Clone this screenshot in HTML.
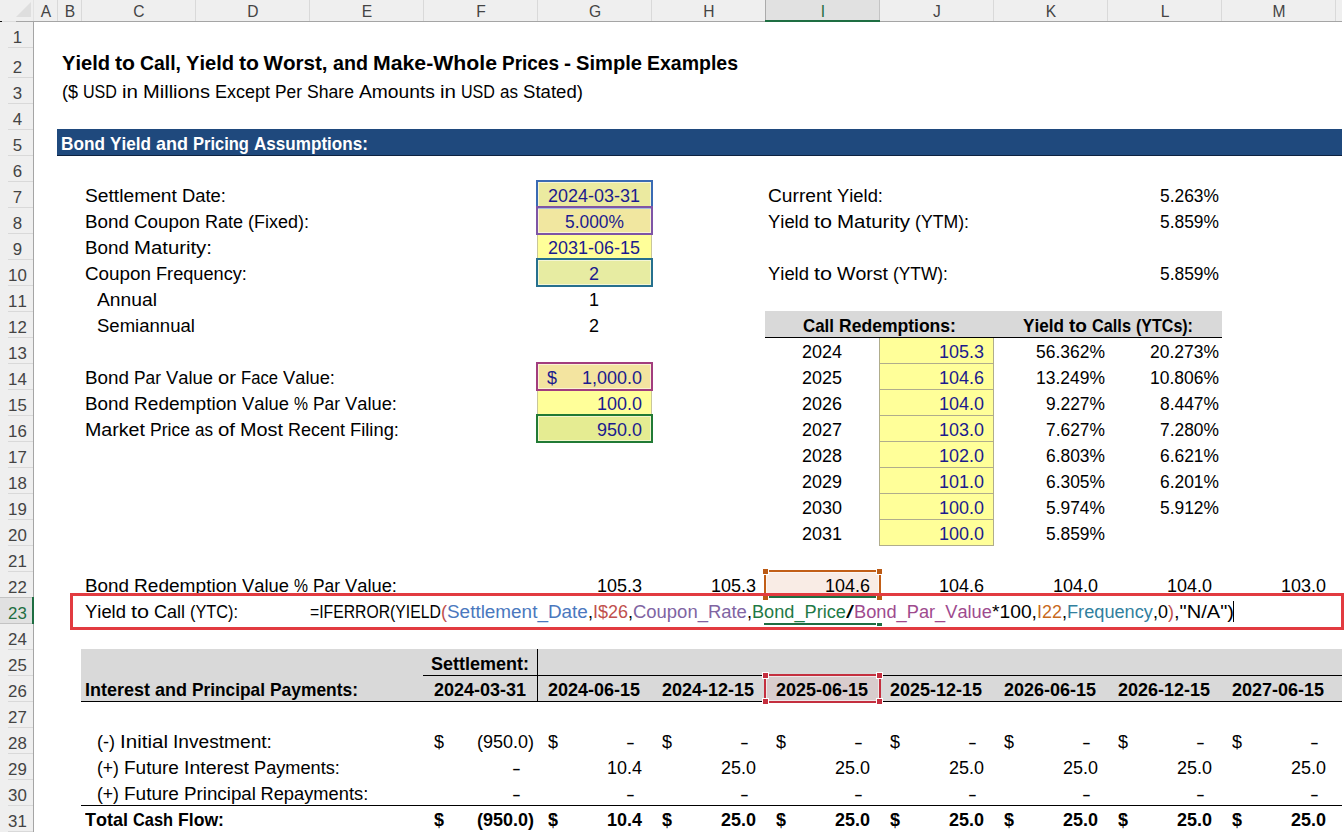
<!DOCTYPE html>
<html><head><meta charset="utf-8"><title>Yield to Call, Yield to Worst, and Make-Whole Prices</title>
<style>
html,body{margin:0;padding:0;background:#fff;}
body{width:1344px;height:832px;position:relative;overflow:hidden;font-family:"Liberation Sans",sans-serif;color:#000;}
.t{position:absolute;white-space:pre;font-kerning:none;transform-origin:0 0;}
.b{position:absolute;}
</style></head><body>

<div class="b" style="left:0;top:0;width:1342px;height:21px;background:#efefef;"></div>
<div class="b" style="left:0;top:21px;width:33px;height:811px;background:#efefef;"></div>
<svg class="b" style="left:0;top:0" width="33" height="21"><polygon points="31,2 31,17 16,17" fill="#dedede"/></svg>
<div class="b" style="left:57px;top:0;width:1px;height:21px;background:#d9d9d9;"></div>
<div class="b" style="left:81px;top:0;width:1px;height:21px;background:#d9d9d9;"></div>
<div class="b" style="left:195px;top:0;width:1px;height:21px;background:#d9d9d9;"></div>
<div class="b" style="left:309px;top:0;width:1px;height:21px;background:#d9d9d9;"></div>
<div class="b" style="left:423px;top:0;width:1px;height:21px;background:#d9d9d9;"></div>
<div class="b" style="left:537px;top:0;width:1px;height:21px;background:#d9d9d9;"></div>
<div class="b" style="left:651px;top:0;width:1px;height:21px;background:#d9d9d9;"></div>
<div class="b" style="left:765px;top:0;width:1px;height:21px;background:#d9d9d9;"></div>
<div class="b" style="left:879px;top:0;width:1px;height:21px;background:#d9d9d9;"></div>
<div class="b" style="left:993px;top:0;width:1px;height:21px;background:#d9d9d9;"></div>
<div class="b" style="left:1107px;top:0;width:1px;height:21px;background:#d9d9d9;"></div>
<div class="b" style="left:1221px;top:0;width:1px;height:21px;background:#d9d9d9;"></div>
<div class="b" style="left:1335px;top:0;width:1px;height:21px;background:#d9d9d9;"></div>
<div class="b" style="left:766px;top:0;width:113px;height:21px;background:#e1e1e1;"></div>
<div class="b" style="left:765px;top:0;width:1px;height:21px;background:#ababab;"></div>
<div class="b" style="left:879px;top:0;width:1px;height:21px;background:#c4c4c4;"></div>
<div class="b" style="left:0;top:21px;width:16px;height:1px;background:#dcdcdc;"></div>
<div class="b" style="left:16px;top:21px;width:1326px;height:1px;background:#a5a5a5;"></div>
<div class="b" style="left:765px;top:20px;width:115px;height:2px;background:#1e6e42;"></div>
<div class="b" style="left:33px;top:0;width:1px;height:21px;background:#e2e2e2;"></div>
<div class="b" style="left:33px;top:21px;width:1px;height:811px;background:#a5a5a5;"></div>
<div class="b" style="left:8px;top:47px;width:25px;height:1px;background:#d9d9d9;"></div>
<div class="b" style="left:8px;top:77px;width:25px;height:1px;background:#d9d9d9;"></div>
<div class="b" style="left:8px;top:103px;width:25px;height:1px;background:#d9d9d9;"></div>
<div class="b" style="left:8px;top:129px;width:25px;height:1px;background:#d9d9d9;"></div>
<div class="b" style="left:8px;top:155px;width:25px;height:1px;background:#d9d9d9;"></div>
<div class="b" style="left:8px;top:181px;width:25px;height:1px;background:#d9d9d9;"></div>
<div class="b" style="left:8px;top:207px;width:25px;height:1px;background:#d9d9d9;"></div>
<div class="b" style="left:8px;top:233px;width:25px;height:1px;background:#d9d9d9;"></div>
<div class="b" style="left:8px;top:259px;width:25px;height:1px;background:#d9d9d9;"></div>
<div class="b" style="left:8px;top:285px;width:25px;height:1px;background:#d9d9d9;"></div>
<div class="b" style="left:8px;top:311px;width:25px;height:1px;background:#d9d9d9;"></div>
<div class="b" style="left:8px;top:337px;width:25px;height:1px;background:#d9d9d9;"></div>
<div class="b" style="left:8px;top:363px;width:25px;height:1px;background:#d9d9d9;"></div>
<div class="b" style="left:8px;top:389px;width:25px;height:1px;background:#d9d9d9;"></div>
<div class="b" style="left:8px;top:415px;width:25px;height:1px;background:#d9d9d9;"></div>
<div class="b" style="left:8px;top:441px;width:25px;height:1px;background:#d9d9d9;"></div>
<div class="b" style="left:8px;top:467px;width:25px;height:1px;background:#d9d9d9;"></div>
<div class="b" style="left:8px;top:493px;width:25px;height:1px;background:#d9d9d9;"></div>
<div class="b" style="left:8px;top:519px;width:25px;height:1px;background:#d9d9d9;"></div>
<div class="b" style="left:8px;top:545px;width:25px;height:1px;background:#d9d9d9;"></div>
<div class="b" style="left:8px;top:571px;width:25px;height:1px;background:#d9d9d9;"></div>
<div class="b" style="left:8px;top:597px;width:25px;height:1px;background:#d9d9d9;"></div>
<div class="b" style="left:8px;top:623px;width:25px;height:1px;background:#d9d9d9;"></div>
<div class="b" style="left:8px;top:649px;width:25px;height:1px;background:#d9d9d9;"></div>
<div class="b" style="left:8px;top:675px;width:25px;height:1px;background:#d9d9d9;"></div>
<div class="b" style="left:8px;top:701px;width:25px;height:1px;background:#d9d9d9;"></div>
<div class="b" style="left:8px;top:727px;width:25px;height:1px;background:#d9d9d9;"></div>
<div class="b" style="left:8px;top:753px;width:25px;height:1px;background:#d9d9d9;"></div>
<div class="b" style="left:8px;top:779px;width:25px;height:1px;background:#d9d9d9;"></div>
<div class="b" style="left:8px;top:805px;width:25px;height:1px;background:#d9d9d9;"></div>
<div class="b" style="left:8px;top:831px;width:25px;height:1px;background:#d9d9d9;"></div>
<div class="b" style="left:0;top:598px;width:33px;height:25px;background:#e1e1e1;"></div>
<div class="b" style="left:0;top:597px;width:32px;height:1px;background:#c3c3c3;"></div>
<div class="b" style="left:0;top:623px;width:32px;height:1px;background:#c3c3c3;"></div>
<div class="b" style="left:32px;top:597px;width:2px;height:27px;background:#1e6e42;"></div>
<div class="b" style="left:0;top:21px;width:2px;height:1px;background:#111;"></div>
<div class="t" style="left:-4.0px;width:100px;text-align:center;top:3.59px;font-size:15.6px;line-height:15.6px;color:#444;">A</div>
<div class="t" style="left:20.0px;width:100px;text-align:center;top:3.59px;font-size:15.6px;line-height:15.6px;color:#444;">B</div>
<div class="t" style="left:89.0px;width:100px;text-align:center;top:3.59px;font-size:15.6px;line-height:15.6px;color:#444;">C</div>
<div class="t" style="left:203.0px;width:100px;text-align:center;top:3.59px;font-size:15.6px;line-height:15.6px;color:#444;">D</div>
<div class="t" style="left:317.0px;width:100px;text-align:center;top:3.59px;font-size:15.6px;line-height:15.6px;color:#444;">E</div>
<div class="t" style="left:431.0px;width:100px;text-align:center;top:3.59px;font-size:15.6px;line-height:15.6px;color:#444;">F</div>
<div class="t" style="left:545.0px;width:100px;text-align:center;top:3.59px;font-size:15.6px;line-height:15.6px;color:#444;">G</div>
<div class="t" style="left:659.0px;width:100px;text-align:center;top:3.59px;font-size:15.6px;line-height:15.6px;color:#444;">H</div>
<div class="t" style="left:773.0px;width:100px;text-align:center;top:3.59px;font-size:15.6px;line-height:15.6px;color:#1e6e42;">I</div>
<div class="t" style="left:887.0px;width:100px;text-align:center;top:3.59px;font-size:15.6px;line-height:15.6px;color:#444;">J</div>
<div class="t" style="left:1001.0px;width:100px;text-align:center;top:3.59px;font-size:15.6px;line-height:15.6px;color:#444;">K</div>
<div class="t" style="left:1115.0px;width:100px;text-align:center;top:3.59px;font-size:15.6px;line-height:15.6px;color:#444;">L</div>
<div class="t" style="left:1229.0px;width:100px;text-align:center;top:3.59px;font-size:15.6px;line-height:15.6px;color:#444;">M</div>
<div class="t" style="left:0.5px;width:33px;text-align:center;top:29.59px;font-size:15.6px;transform:scaleX(1.08);transform-origin:50% 0;line-height:15.6px;color:#444;">1</div>
<div class="t" style="left:0.5px;width:33px;text-align:center;top:59.59px;font-size:15.6px;transform:scaleX(1.08);transform-origin:50% 0;line-height:15.6px;color:#444;">2</div>
<div class="t" style="left:0.5px;width:33px;text-align:center;top:85.59px;font-size:15.6px;transform:scaleX(1.08);transform-origin:50% 0;line-height:15.6px;color:#444;">3</div>
<div class="t" style="left:0.5px;width:33px;text-align:center;top:111.59px;font-size:15.6px;transform:scaleX(1.08);transform-origin:50% 0;line-height:15.6px;color:#444;">4</div>
<div class="t" style="left:0.5px;width:33px;text-align:center;top:137.59px;font-size:15.6px;transform:scaleX(1.08);transform-origin:50% 0;line-height:15.6px;color:#444;">5</div>
<div class="t" style="left:0.5px;width:33px;text-align:center;top:163.59px;font-size:15.6px;transform:scaleX(1.08);transform-origin:50% 0;line-height:15.6px;color:#444;">6</div>
<div class="t" style="left:0.5px;width:33px;text-align:center;top:189.59px;font-size:15.6px;transform:scaleX(1.08);transform-origin:50% 0;line-height:15.6px;color:#444;">7</div>
<div class="t" style="left:0.5px;width:33px;text-align:center;top:215.59px;font-size:15.6px;transform:scaleX(1.08);transform-origin:50% 0;line-height:15.6px;color:#444;">8</div>
<div class="t" style="left:0.5px;width:33px;text-align:center;top:241.59px;font-size:15.6px;transform:scaleX(1.08);transform-origin:50% 0;line-height:15.6px;color:#444;">9</div>
<div class="t" style="left:0.5px;width:33px;text-align:center;top:267.59px;font-size:15.6px;transform:scaleX(1.08);transform-origin:50% 0;line-height:15.6px;color:#444;">10</div>
<div class="t" style="left:0.5px;width:33px;text-align:center;top:293.59px;font-size:15.6px;transform:scaleX(1.08);transform-origin:50% 0;line-height:15.6px;color:#444;">11</div>
<div class="t" style="left:0.5px;width:33px;text-align:center;top:319.59px;font-size:15.6px;transform:scaleX(1.08);transform-origin:50% 0;line-height:15.6px;color:#444;">12</div>
<div class="t" style="left:0.5px;width:33px;text-align:center;top:345.59px;font-size:15.6px;transform:scaleX(1.08);transform-origin:50% 0;line-height:15.6px;color:#444;">13</div>
<div class="t" style="left:0.5px;width:33px;text-align:center;top:371.59px;font-size:15.6px;transform:scaleX(1.08);transform-origin:50% 0;line-height:15.6px;color:#444;">14</div>
<div class="t" style="left:0.5px;width:33px;text-align:center;top:397.59px;font-size:15.6px;transform:scaleX(1.08);transform-origin:50% 0;line-height:15.6px;color:#444;">15</div>
<div class="t" style="left:0.5px;width:33px;text-align:center;top:423.59px;font-size:15.6px;transform:scaleX(1.08);transform-origin:50% 0;line-height:15.6px;color:#444;">16</div>
<div class="t" style="left:0.5px;width:33px;text-align:center;top:449.59px;font-size:15.6px;transform:scaleX(1.08);transform-origin:50% 0;line-height:15.6px;color:#444;">17</div>
<div class="t" style="left:0.5px;width:33px;text-align:center;top:475.59px;font-size:15.6px;transform:scaleX(1.08);transform-origin:50% 0;line-height:15.6px;color:#444;">18</div>
<div class="t" style="left:0.5px;width:33px;text-align:center;top:501.59px;font-size:15.6px;transform:scaleX(1.08);transform-origin:50% 0;line-height:15.6px;color:#444;">19</div>
<div class="t" style="left:0.5px;width:33px;text-align:center;top:527.59px;font-size:15.6px;transform:scaleX(1.08);transform-origin:50% 0;line-height:15.6px;color:#444;">20</div>
<div class="t" style="left:0.5px;width:33px;text-align:center;top:553.59px;font-size:15.6px;transform:scaleX(1.08);transform-origin:50% 0;line-height:15.6px;color:#444;">21</div>
<div class="t" style="left:0.5px;width:33px;text-align:center;top:579.59px;font-size:15.6px;transform:scaleX(1.08);transform-origin:50% 0;line-height:15.6px;color:#444;">22</div>
<div class="t" style="left:0.5px;width:33px;text-align:center;top:605.59px;font-size:15.6px;transform:scaleX(1.08);transform-origin:50% 0;line-height:15.6px;color:#1e6e42;">23</div>
<div class="t" style="left:0.5px;width:33px;text-align:center;top:631.59px;font-size:15.6px;transform:scaleX(1.08);transform-origin:50% 0;line-height:15.6px;color:#444;">24</div>
<div class="t" style="left:0.5px;width:33px;text-align:center;top:657.59px;font-size:15.6px;transform:scaleX(1.08);transform-origin:50% 0;line-height:15.6px;color:#444;">25</div>
<div class="t" style="left:0.5px;width:33px;text-align:center;top:683.59px;font-size:15.6px;transform:scaleX(1.08);transform-origin:50% 0;line-height:15.6px;color:#444;">26</div>
<div class="t" style="left:0.5px;width:33px;text-align:center;top:709.59px;font-size:15.6px;transform:scaleX(1.08);transform-origin:50% 0;line-height:15.6px;color:#444;">27</div>
<div class="t" style="left:0.5px;width:33px;text-align:center;top:735.59px;font-size:15.6px;transform:scaleX(1.08);transform-origin:50% 0;line-height:15.6px;color:#444;">28</div>
<div class="t" style="left:0.5px;width:33px;text-align:center;top:761.59px;font-size:15.6px;transform:scaleX(1.08);transform-origin:50% 0;line-height:15.6px;color:#444;">29</div>
<div class="t" style="left:0.5px;width:33px;text-align:center;top:787.59px;font-size:15.6px;transform:scaleX(1.08);transform-origin:50% 0;line-height:15.6px;color:#444;">30</div>
<div class="t" style="left:0.5px;width:33px;text-align:center;top:813.59px;font-size:15.6px;transform:scaleX(1.08);transform-origin:50% 0;line-height:15.6px;color:#444;">31</div>
<div class="b" style="left:57px;top:129px;width:1285px;height:26px;background:#1f497d;"></div>
<div class="b" style="left:57px;top:155px;width:1285px;height:1px;background:#0d2240;"></div>
<div class="b" style="left:537px;top:182px;width:115px;height:26px;background:#ebeaa0;"></div>
<div class="b" style="left:537px;top:208px;width:115px;height:26px;background:#f1e7a0;"></div>
<div class="b" style="left:537px;top:234px;width:115px;height:26px;background:#ffff99;"></div>
<div class="b" style="left:537px;top:260px;width:115px;height:26px;background:#e7eca2;"></div>
<div class="b" style="left:537px;top:364px;width:115px;height:26px;background:#f3e4a0;"></div>
<div class="b" style="left:537px;top:390px;width:115px;height:26px;background:#ffff99;"></div>
<div class="b" style="left:537px;top:416px;width:115px;height:26px;background:#e5ec92;"></div>
<div class="b" style="left:537px;top:233px;width:1px;height:27px;background:#c9c69a;"></div>
<div class="b" style="left:651px;top:233px;width:1px;height:27px;background:#c9c69a;"></div>
<div class="b" style="left:537px;top:389px;width:1px;height:27px;background:#c9c69a;"></div>
<div class="b" style="left:651px;top:389px;width:1px;height:27px;background:#c9c69a;"></div>
<div class="b" style="left:765px;top:311px;width:457px;height:26px;background:#d9d9d9;"></div>
<div class="b" style="left:765px;top:337px;width:457px;height:1px;background:#000;"></div>
<div class="b" style="left:880px;top:338px;width:113px;height:207px;background:#ffff99;"></div>
<div class="b" style="left:879px;top:363px;width:115px;height:1px;background:#b0ad8c;"></div>
<div class="b" style="left:879px;top:389px;width:115px;height:1px;background:#b0ad8c;"></div>
<div class="b" style="left:879px;top:415px;width:115px;height:1px;background:#b0ad8c;"></div>
<div class="b" style="left:879px;top:441px;width:115px;height:1px;background:#b0ad8c;"></div>
<div class="b" style="left:879px;top:467px;width:115px;height:1px;background:#b0ad8c;"></div>
<div class="b" style="left:879px;top:493px;width:115px;height:1px;background:#b0ad8c;"></div>
<div class="b" style="left:879px;top:519px;width:115px;height:1px;background:#b0ad8c;"></div>
<div class="b" style="left:879px;top:545px;width:115px;height:1px;background:#b0ad8c;"></div>
<div class="b" style="left:879px;top:338px;width:1px;height:208px;background:#b0ad8c;"></div>
<div class="b" style="left:993px;top:338px;width:1px;height:208px;background:#b0ad8c;"></div>
<div class="b" style="left:766px;top:572px;width:114px;height:25px;background:#f9ece5;"></div>
<div class="b" style="left:81px;top:649px;width:1261px;height:52px;background:#d9d9d9;"></div>
<div class="b" style="left:766px;top:676px;width:113px;height:25px;background:#d8cccd;"></div>
<div class="b" style="left:423px;top:675px;width:919px;height:1px;background:#000;"></div>
<div class="b" style="left:537px;top:649px;width:1px;height:52px;background:#000;"></div>
<div class="b" style="left:81px;top:701px;width:1261px;height:1px;background:#000;"></div>
<div class="b" style="left:81px;top:805px;width:1261px;height:1px;background:#000;"></div>
<div class="t " style="left:61.50px;top:53.36px;font-size:20.6px;line-height:20.6px;font-weight:bold;transform:scaleX(0.9751);">Yield</div>
<div class="t " style="left:114.50px;top:53.36px;font-size:20.6px;line-height:20.6px;font-weight:bold;transform:scaleX(1.0286);">to</div>
<div class="t " style="left:139.50px;top:53.36px;font-size:20.6px;line-height:20.6px;font-weight:bold;transform:scaleX(0.9425);">Call,</div>
<div class="t " style="left:185.50px;top:53.36px;font-size:20.6px;line-height:20.6px;font-weight:bold;transform:scaleX(0.9751);">Yield</div>
<div class="t " style="left:238.50px;top:53.36px;font-size:20.6px;line-height:20.6px;font-weight:bold;transform:scaleX(1.0286);">to</div>
<div class="t " style="left:263.50px;top:53.36px;font-size:20.6px;line-height:20.6px;font-weight:bold;">Worst,</div>
<div class="t " style="left:332.50px;top:53.36px;font-size:20.6px;line-height:20.6px;font-weight:bold;transform:scaleX(0.9557);">and</div>
<div class="t " style="left:372.50px;top:53.36px;font-size:20.6px;line-height:20.6px;font-weight:bold;transform:scaleX(1.0318);">Make-Whole</div>
<div class="t " style="left:501.50px;top:53.36px;font-size:20.6px;line-height:20.6px;font-weight:bold;transform:scaleX(0.9216);">Prices</div>
<div class="t " style="left:563.50px;top:53.36px;font-size:20.6px;line-height:20.6px;font-weight:bold;transform:scaleX(1.0204);">-</div>
<div class="t " style="left:575.50px;top:53.36px;font-size:20.6px;line-height:20.6px;font-weight:bold;transform:scaleX(0.9771);">Simple</div>
<div class="t " style="left:646.50px;top:53.36px;font-size:20.6px;line-height:20.6px;font-weight:bold;transform:scaleX(0.9460);">Examples</div>
<div class="t " style="left:61.50px;top:83.31px;font-size:18.3px;line-height:18.3px;transform:scaleX(0.9833);">($</div>
<div class="t " style="left:82.50px;top:83.31px;font-size:18.3px;line-height:18.3px;transform:scaleX(0.8800);">USD</div>
<div class="t " style="left:121.50px;top:83.31px;font-size:18.3px;line-height:18.3px;transform:scaleX(1.1233);">in</div>
<div class="t " style="left:142.50px;top:83.31px;font-size:18.3px;line-height:18.3px;transform:scaleX(1.0981);">Millions</div>
<div class="t " style="left:214.50px;top:83.31px;font-size:18.3px;line-height:18.3px;transform:scaleX(0.9831);">Except</div>
<div class="t " style="left:274.50px;top:83.31px;font-size:18.3px;line-height:18.3px;transform:scaleX(0.9481);">Per</div>
<div class="t " style="left:306.50px;top:83.31px;font-size:18.3px;line-height:18.3px;transform:scaleX(0.9625);">Share</div>
<div class="t " style="left:358.50px;top:83.31px;font-size:18.3px;line-height:18.3px;transform:scaleX(1.0524);">Amounts</div>
<div class="t " style="left:439.50px;top:83.31px;font-size:18.3px;line-height:18.3px;transform:scaleX(1.1233);">in</div>
<div class="t " style="left:460.50px;top:83.31px;font-size:18.3px;line-height:18.3px;transform:scaleX(0.8800);">USD</div>
<div class="t " style="left:499.50px;top:83.31px;font-size:18.3px;line-height:18.3px;transform:scaleX(0.9313);">as</div>
<div class="t " style="left:522.50px;top:83.31px;font-size:18.3px;line-height:18.3px;transform:scaleX(1.0169);">Stated)</div>
<div class="t " style="left:61.00px;top:135.39px;font-size:18.2px;line-height:18.2px;font-weight:bold;color:#fff;transform:scaleX(0.9463);">Bond</div>
<div class="t " style="left:110.00px;top:135.39px;font-size:18.2px;line-height:18.2px;font-weight:bold;color:#fff;transform:scaleX(0.9427);">Yield</div>
<div class="t " style="left:156.00px;top:135.39px;font-size:18.2px;line-height:18.2px;font-weight:bold;color:#fff;transform:scaleX(0.9890);">and</div>
<div class="t " style="left:193.00px;top:135.39px;font-size:18.2px;line-height:18.2px;font-weight:bold;color:#fff;transform:scaleX(0.9077);">Pricing</div>
<div class="t " style="left:254.00px;top:135.39px;font-size:18.2px;line-height:18.2px;font-weight:bold;color:#fff;transform:scaleX(0.9395);">Assumptions:</div>
<div class="t " style="left:85.00px;top:187.31px;font-size:18.3px;line-height:18.3px;transform:scaleX(1.0517);">Settlement</div>
<div class="t " style="left:182.00px;top:187.31px;font-size:18.3px;line-height:18.3px;transform:scaleX(1.0060);">Date:</div>
<div class="t " style="left:85.00px;top:213.31px;font-size:18.3px;line-height:18.3px;transform:scaleX(1.0295);">Bond</div>
<div class="t " style="left:134.00px;top:213.31px;font-size:18.3px;line-height:18.3px;transform:scaleX(1.0296);">Coupon</div>
<div class="t " style="left:205.00px;top:213.31px;font-size:18.3px;line-height:18.3px;transform:scaleX(0.9831);">Rate</div>
<div class="t " style="left:248.00px;top:213.31px;font-size:18.3px;line-height:18.3px;transform:scaleX(0.9835);">(Fixed):</div>
<div class="t " style="left:85.00px;top:239.31px;font-size:18.3px;line-height:18.3px;transform:scaleX(1.0295);">Bond</div>
<div class="t " style="left:134.00px;top:239.31px;font-size:18.3px;line-height:18.3px;transform:scaleX(1.1117);">Maturity:</div>
<div class="t " style="left:85.00px;top:265.31px;font-size:18.3px;line-height:18.3px;transform:scaleX(1.0296);">Coupon</div>
<div class="t " style="left:156.00px;top:265.31px;font-size:18.3px;line-height:18.3px;transform:scaleX(0.9941);">Frequency:</div>
<div class="t " style="left:85.00px;top:369.31px;font-size:18.3px;line-height:18.3px;transform:scaleX(1.0295);">Bond</div>
<div class="t " style="left:134.00px;top:369.31px;font-size:18.3px;line-height:18.3px;transform:scaleX(0.9481);">Par</div>
<div class="t " style="left:166.00px;top:369.31px;font-size:18.3px;line-height:18.3px;transform:scaleX(1.0042);">Value</div>
<div class="t " style="left:218.00px;top:369.31px;font-size:18.3px;line-height:18.3px;transform:scaleX(1.1062);">or</div>
<div class="t " style="left:241.00px;top:369.31px;font-size:18.3px;line-height:18.3px;transform:scaleX(0.9095);">Face</div>
<div class="t " style="left:283.00px;top:369.31px;font-size:18.3px;line-height:18.3px;transform:scaleX(1.0021);">Value:</div>
<div class="t " style="left:85.00px;top:395.31px;font-size:18.3px;line-height:18.3px;transform:scaleX(1.0295);">Bond</div>
<div class="t " style="left:134.00px;top:395.31px;font-size:18.3px;line-height:18.3px;transform:scaleX(1.0438);">Redemption</div>
<div class="t " style="left:242.00px;top:395.31px;font-size:18.3px;line-height:18.3px;transform:scaleX(1.0042);">Value</div>
<div class="t " style="left:294.00px;top:395.31px;font-size:18.3px;line-height:18.3px;transform:scaleX(0.8604);">%</div>
<div class="t " style="left:313.00px;top:395.31px;font-size:18.3px;line-height:18.3px;transform:scaleX(0.9481);">Par</div>
<div class="t " style="left:345.00px;top:395.31px;font-size:18.3px;line-height:18.3px;transform:scaleX(1.0021);">Value:</div>
<div class="t " style="left:85.00px;top:421.31px;font-size:18.3px;line-height:18.3px;transform:scaleX(1.0728);">Market</div>
<div class="t " style="left:150.00px;top:421.31px;font-size:18.3px;line-height:18.3px;transform:scaleX(0.9594);">Price</div>
<div class="t " style="left:195.00px;top:421.31px;font-size:18.3px;line-height:18.3px;transform:scaleX(0.9313);">as</div>
<div class="t " style="left:218.00px;top:421.31px;font-size:18.3px;line-height:18.3px;transform:scaleX(1.1139);">of</div>
<div class="t " style="left:240.00px;top:421.31px;font-size:18.3px;line-height:18.3px;transform:scaleX(1.0843);">Most</div>
<div class="t " style="left:288.00px;top:421.31px;font-size:18.3px;line-height:18.3px;transform:scaleX(0.9831);">Recent</div>
<div class="t " style="left:350.00px;top:421.31px;font-size:18.3px;line-height:18.3px;transform:scaleX(1.0038);">Filing:</div>
<div class="t " style="left:96.50px;top:291.31px;font-size:18.3px;line-height:18.3px;transform:scaleX(1.0530);">Annual</div>
<div class="t " style="left:96.50px;top:317.31px;font-size:18.3px;line-height:18.3px;transform:scaleX(1.0140);">Semiannual</div>
<div class="t " style="left:548.00px;top:187.31px;font-size:18.3px;line-height:18.3px;color:#1b1b8e;transform:scaleX(0.9828);">2024-03-31</div>
<div class="t " style="left:564.50px;top:213.31px;font-size:18.3px;line-height:18.3px;color:#1b1b8e;transform:scaleX(0.9506);">5.000%</div>
<div class="t " style="left:548.00px;top:239.31px;font-size:18.3px;line-height:18.3px;color:#1b1b8e;transform:scaleX(0.9828);">2031-06-15</div>
<div class="t " style="left:589.00px;top:265.31px;font-size:18.3px;line-height:18.3px;color:#1b1b8e;transform:scaleX(0.9826);">2</div>
<div class="t " style="left:589.00px;top:291.31px;font-size:18.3px;line-height:18.3px;transform:scaleX(0.9826);">1</div>
<div class="t " style="left:589.00px;top:317.31px;font-size:18.3px;line-height:18.3px;transform:scaleX(0.9826);">2</div>
<div class="t " style="left:546.50px;top:369.31px;font-size:18.3px;line-height:18.3px;color:#1b1b8e;transform:scaleX(0.9826);">$</div>
<div class="t " style="left:581.50px;top:369.31px;font-size:18.3px;line-height:18.3px;color:#1b1b8e;transform:scaleX(0.9827);">1,000.0</div>
<div class="t " style="left:596.50px;top:395.31px;font-size:18.3px;line-height:18.3px;color:#1b1b8e;transform:scaleX(0.9826);">100.0</div>
<div class="t " style="left:596.50px;top:421.31px;font-size:18.3px;line-height:18.3px;color:#1b1b8e;transform:scaleX(0.9826);">950.0</div>
<div class="t " style="left:768.00px;top:187.31px;font-size:18.3px;line-height:18.3px;transform:scaleX(1.0488);">Current</div>
<div class="t " style="left:837.00px;top:187.31px;font-size:18.3px;line-height:18.3px;transform:scaleX(1.0049);">Yield:</div>
<div class="t " style="left:1159.50px;top:187.31px;font-size:18.3px;line-height:18.3px;transform:scaleX(0.9506);">5.263%</div>
<div class="t " style="left:768.00px;top:213.31px;font-size:18.3px;line-height:18.3px;transform:scaleX(1.0076);">Yield</div>
<div class="t " style="left:814.00px;top:213.31px;font-size:18.3px;line-height:18.3px;transform:scaleX(1.1794);">to</div>
<div class="t " style="left:837.00px;top:213.31px;font-size:18.3px;line-height:18.3px;transform:scaleX(1.1217);">Maturity</div>
<div class="t " style="left:915.00px;top:213.31px;font-size:18.3px;line-height:18.3px;transform:scaleX(0.9660);">(YTM):</div>
<div class="t " style="left:1159.50px;top:213.31px;font-size:18.3px;line-height:18.3px;transform:scaleX(0.9506);">5.859%</div>
<div class="t " style="left:768.00px;top:265.31px;font-size:18.3px;line-height:18.3px;transform:scaleX(1.0076);">Yield</div>
<div class="t " style="left:814.00px;top:265.31px;font-size:18.3px;line-height:18.3px;transform:scaleX(1.1794);">to</div>
<div class="t " style="left:837.00px;top:265.31px;font-size:18.3px;line-height:18.3px;transform:scaleX(1.0674);">Worst</div>
<div class="t " style="left:893.00px;top:265.31px;font-size:18.3px;line-height:18.3px;transform:scaleX(0.9494);">(YTW):</div>
<div class="t " style="left:1159.50px;top:265.31px;font-size:18.3px;line-height:18.3px;transform:scaleX(0.9506);">5.859%</div>
<div class="t " style="left:802.50px;top:317.39px;font-size:18.2px;line-height:18.2px;font-weight:bold;transform:scaleX(0.9287);">Call</div>
<div class="t " style="left:838.50px;top:317.39px;font-size:18.2px;line-height:18.2px;font-weight:bold;transform:scaleX(0.9642);">Redemptions:</div>
<div class="t " style="left:1022.50px;top:317.39px;font-size:18.2px;line-height:18.2px;font-weight:bold;transform:scaleX(0.9427);">Yield</div>
<div class="t " style="left:1068.50px;top:317.39px;font-size:18.2px;line-height:18.2px;font-weight:bold;transform:scaleX(1.0479);">to</div>
<div class="t " style="left:1091.50px;top:317.39px;font-size:18.2px;line-height:18.2px;font-weight:bold;transform:scaleX(0.8965);">Calls</div>
<div class="t " style="left:1135.50px;top:317.39px;font-size:18.2px;line-height:18.2px;font-weight:bold;transform:scaleX(0.8809);">(YTCs):</div>
<div class="t " style="left:802.00px;top:343.31px;font-size:18.3px;line-height:18.3px;transform:scaleX(0.9826);">2024</div>
<div class="t " style="left:938.50px;top:343.31px;font-size:18.3px;line-height:18.3px;color:#1b1b8e;transform:scaleX(0.9826);">105.3</div>
<div class="t " style="left:1035.50px;top:343.31px;font-size:18.3px;line-height:18.3px;transform:scaleX(0.9551);">56.362%</div>
<div class="t " style="left:1149.50px;top:343.31px;font-size:18.3px;line-height:18.3px;transform:scaleX(0.9551);">20.273%</div>
<div class="t " style="left:802.00px;top:369.31px;font-size:18.3px;line-height:18.3px;transform:scaleX(0.9826);">2025</div>
<div class="t " style="left:938.50px;top:369.31px;font-size:18.3px;line-height:18.3px;color:#1b1b8e;transform:scaleX(0.9826);">104.6</div>
<div class="t " style="left:1035.50px;top:369.31px;font-size:18.3px;line-height:18.3px;transform:scaleX(0.9551);">13.249%</div>
<div class="t " style="left:1149.50px;top:369.31px;font-size:18.3px;line-height:18.3px;transform:scaleX(0.9551);">10.806%</div>
<div class="t " style="left:802.00px;top:395.31px;font-size:18.3px;line-height:18.3px;transform:scaleX(0.9826);">2026</div>
<div class="t " style="left:938.50px;top:395.31px;font-size:18.3px;line-height:18.3px;color:#1b1b8e;transform:scaleX(0.9826);">104.0</div>
<div class="t " style="left:1045.50px;top:395.31px;font-size:18.3px;line-height:18.3px;transform:scaleX(0.9506);">9.227%</div>
<div class="t " style="left:1159.50px;top:395.31px;font-size:18.3px;line-height:18.3px;transform:scaleX(0.9506);">8.447%</div>
<div class="t " style="left:802.00px;top:421.31px;font-size:18.3px;line-height:18.3px;transform:scaleX(0.9826);">2027</div>
<div class="t " style="left:938.50px;top:421.31px;font-size:18.3px;line-height:18.3px;color:#1b1b8e;transform:scaleX(0.9826);">103.0</div>
<div class="t " style="left:1045.50px;top:421.31px;font-size:18.3px;line-height:18.3px;transform:scaleX(0.9506);">7.627%</div>
<div class="t " style="left:1159.50px;top:421.31px;font-size:18.3px;line-height:18.3px;transform:scaleX(0.9506);">7.280%</div>
<div class="t " style="left:802.00px;top:447.31px;font-size:18.3px;line-height:18.3px;transform:scaleX(0.9826);">2028</div>
<div class="t " style="left:938.50px;top:447.31px;font-size:18.3px;line-height:18.3px;color:#1b1b8e;transform:scaleX(0.9826);">102.0</div>
<div class="t " style="left:1045.50px;top:447.31px;font-size:18.3px;line-height:18.3px;transform:scaleX(0.9506);">6.803%</div>
<div class="t " style="left:1159.50px;top:447.31px;font-size:18.3px;line-height:18.3px;transform:scaleX(0.9506);">6.621%</div>
<div class="t " style="left:802.00px;top:473.31px;font-size:18.3px;line-height:18.3px;transform:scaleX(0.9826);">2029</div>
<div class="t " style="left:938.50px;top:473.31px;font-size:18.3px;line-height:18.3px;color:#1b1b8e;transform:scaleX(0.9826);">101.0</div>
<div class="t " style="left:1045.50px;top:473.31px;font-size:18.3px;line-height:18.3px;transform:scaleX(0.9506);">6.305%</div>
<div class="t " style="left:1159.50px;top:473.31px;font-size:18.3px;line-height:18.3px;transform:scaleX(0.9506);">6.201%</div>
<div class="t " style="left:802.00px;top:499.31px;font-size:18.3px;line-height:18.3px;transform:scaleX(0.9826);">2030</div>
<div class="t " style="left:938.50px;top:499.31px;font-size:18.3px;line-height:18.3px;color:#1b1b8e;transform:scaleX(0.9826);">100.0</div>
<div class="t " style="left:1045.50px;top:499.31px;font-size:18.3px;line-height:18.3px;transform:scaleX(0.9506);">5.974%</div>
<div class="t " style="left:1159.50px;top:499.31px;font-size:18.3px;line-height:18.3px;transform:scaleX(0.9506);">5.912%</div>
<div class="t " style="left:802.00px;top:525.31px;font-size:18.3px;line-height:18.3px;transform:scaleX(0.9826);">2031</div>
<div class="t " style="left:938.50px;top:525.31px;font-size:18.3px;line-height:18.3px;color:#1b1b8e;transform:scaleX(0.9826);">100.0</div>
<div class="t " style="left:1045.50px;top:525.31px;font-size:18.3px;line-height:18.3px;transform:scaleX(0.9506);">5.859%</div>
<div class="t " style="left:85.00px;top:577.31px;font-size:18.3px;line-height:18.3px;transform:scaleX(1.0295);">Bond</div>
<div class="t " style="left:134.00px;top:577.31px;font-size:18.3px;line-height:18.3px;transform:scaleX(1.0438);">Redemption</div>
<div class="t " style="left:242.00px;top:577.31px;font-size:18.3px;line-height:18.3px;transform:scaleX(1.0042);">Value</div>
<div class="t " style="left:294.00px;top:577.31px;font-size:18.3px;line-height:18.3px;transform:scaleX(0.8604);">%</div>
<div class="t " style="left:313.00px;top:577.31px;font-size:18.3px;line-height:18.3px;transform:scaleX(0.9481);">Par</div>
<div class="t " style="left:345.00px;top:577.31px;font-size:18.3px;line-height:18.3px;transform:scaleX(1.0021);">Value:</div>
<div class="t " style="left:596.50px;top:577.31px;font-size:18.3px;line-height:18.3px;transform:scaleX(0.9826);">105.3</div>
<div class="t " style="left:710.50px;top:577.31px;font-size:18.3px;line-height:18.3px;transform:scaleX(0.9826);">105.3</div>
<div class="t " style="left:824.50px;top:577.31px;font-size:18.3px;line-height:18.3px;transform:scaleX(0.9826);">104.6</div>
<div class="t " style="left:938.50px;top:577.31px;font-size:18.3px;line-height:18.3px;transform:scaleX(0.9826);">104.6</div>
<div class="t " style="left:1052.50px;top:577.31px;font-size:18.3px;line-height:18.3px;transform:scaleX(0.9826);">104.0</div>
<div class="t " style="left:1166.50px;top:577.31px;font-size:18.3px;line-height:18.3px;transform:scaleX(0.9826);">104.0</div>
<div class="t " style="left:1280.50px;top:577.31px;font-size:18.3px;line-height:18.3px;transform:scaleX(0.9826);">103.0</div>
<div class="t " style="left:85.00px;top:603.31px;font-size:18.3px;line-height:18.3px;transform:scaleX(1.0076);">Yield</div>
<div class="t " style="left:131.00px;top:603.31px;font-size:18.3px;line-height:18.3px;transform:scaleX(1.1794);">to</div>
<div class="t " style="left:154.00px;top:603.31px;font-size:18.3px;line-height:18.3px;transform:scaleX(0.9834);">Call</div>
<div class="t " style="left:190.00px;top:603.31px;font-size:18.3px;line-height:18.3px;transform:scaleX(0.8910);">(YTC):</div>
<div class="t " style="left:310.20px;top:603.11px;font-size:18.3px;line-height:18.3px;transform:scaleX(0.8617);">=IFERROR(YIELD</div>
<div class="t " style="left:441.20px;top:603.11px;font-size:18.3px;line-height:18.3px;color:#c0504d;transform:scaleX(0.9846);">(</div>
<div class="t " style="left:447.20px;top:603.11px;font-size:18.3px;line-height:18.3px;color:#4a78be;transform:scaleX(1.0344);">Settlement_Date</div>
<div class="t " style="left:588.20px;top:603.11px;font-size:18.3px;line-height:18.3px;transform:scaleX(0.9834);">,</div>
<div class="t " style="left:593.20px;top:603.11px;font-size:18.3px;line-height:18.3px;color:#c0504d;transform:scaleX(0.9827);">I$26</div>
<div class="t " style="left:628.20px;top:603.11px;font-size:18.3px;line-height:18.3px;transform:scaleX(0.9834);">,</div>
<div class="t " style="left:633.20px;top:603.11px;font-size:18.3px;line-height:18.3px;color:#8064a2;transform:scaleX(1.0094);">Coupon_Rate</div>
<div class="t " style="left:747.20px;top:603.11px;font-size:18.3px;line-height:18.3px;transform:scaleX(0.9834);">,</div>
<div class="t " style="left:752.20px;top:603.11px;font-size:18.3px;line-height:18.3px;color:#1f7a46;transform:scaleX(0.9936);">Bond_Price</div>
<div class="t " style="left:846.20px;top:603.11px;font-size:18.3px;line-height:18.3px;transform:scaleX(1.5735);">/</div>
<div class="t " style="left:854.20px;top:603.11px;font-size:18.3px;line-height:18.3px;color:#9e4a8e;transform:scaleX(0.9973);">Bond_Par_Value</div>
<div class="t " style="left:992.20px;top:603.11px;font-size:18.3px;line-height:18.3px;transform:scaleX(1.0529);">*100,</div>
<div class="t " style="left:1037.20px;top:603.11px;font-size:18.3px;line-height:18.3px;color:#c86a1e;transform:scaleX(0.9827);">I22</div>
<div class="t " style="left:1062.20px;top:603.11px;font-size:18.3px;line-height:18.3px;transform:scaleX(0.9834);">,</div>
<div class="t " style="left:1067.20px;top:603.11px;font-size:18.3px;line-height:18.3px;color:#31809e;transform:scaleX(0.9947);">Frequency</div>
<div class="t " style="left:1153.20px;top:603.11px;font-size:18.3px;line-height:18.3px;transform:scaleX(0.9828);">,0</div>
<div class="t " style="left:1168.20px;top:603.11px;font-size:18.3px;line-height:18.3px;color:#c0504d;transform:scaleX(0.9846);">)</div>
<div class="t " style="left:1174.20px;top:603.11px;font-size:18.3px;line-height:18.3px;transform:scaleX(1.0974);">,&quot;N/A&quot;)</div>
<div class="t " style="left:431.00px;top:655.39px;font-size:18.2px;line-height:18.2px;font-weight:bold;transform:scaleX(0.9889);">Settlement:</div>
<div class="t " style="left:85.00px;top:681.39px;font-size:18.2px;line-height:18.2px;font-weight:bold;transform:scaleX(0.9887);">Interest</div>
<div class="t " style="left:155.00px;top:681.39px;font-size:18.2px;line-height:18.2px;font-weight:bold;transform:scaleX(0.9890);">and</div>
<div class="t " style="left:192.00px;top:681.39px;font-size:18.2px;line-height:18.2px;font-weight:bold;transform:scaleX(0.9497);">Principal</div>
<div class="t " style="left:270.00px;top:681.39px;font-size:18.2px;line-height:18.2px;font-weight:bold;transform:scaleX(0.9560);">Payments:</div>
<div class="t " style="left:434.00px;top:681.39px;font-size:18.2px;line-height:18.2px;font-weight:bold;transform:scaleX(0.9882);">2024-03-31</div>
<div class="t " style="left:548.00px;top:681.39px;font-size:18.2px;line-height:18.2px;font-weight:bold;transform:scaleX(0.9882);">2024-06-15</div>
<div class="t " style="left:662.00px;top:681.39px;font-size:18.2px;line-height:18.2px;font-weight:bold;transform:scaleX(0.9882);">2024-12-15</div>
<div class="t " style="left:776.00px;top:681.39px;font-size:18.2px;line-height:18.2px;font-weight:bold;transform:scaleX(0.9882);">2025-06-15</div>
<div class="t " style="left:890.00px;top:681.39px;font-size:18.2px;line-height:18.2px;font-weight:bold;transform:scaleX(0.9882);">2025-12-15</div>
<div class="t " style="left:1004.00px;top:681.39px;font-size:18.2px;line-height:18.2px;font-weight:bold;transform:scaleX(0.9882);">2026-06-15</div>
<div class="t " style="left:1118.00px;top:681.39px;font-size:18.2px;line-height:18.2px;font-weight:bold;transform:scaleX(0.9882);">2026-12-15</div>
<div class="t " style="left:1232.00px;top:681.39px;font-size:18.2px;line-height:18.2px;font-weight:bold;transform:scaleX(0.9882);">2027-06-15</div>
<div class="t " style="left:96.50px;top:733.31px;font-size:18.3px;line-height:18.3px;transform:scaleX(0.9846);">(-)</div>
<div class="t " style="left:119.50px;top:733.31px;font-size:18.3px;line-height:18.3px;transform:scaleX(1.1236);">Initial</div>
<div class="t " style="left:172.50px;top:733.31px;font-size:18.3px;line-height:18.3px;transform:scaleX(1.0466);">Investment:</div>
<div class="t " style="left:96.50px;top:759.31px;font-size:18.3px;line-height:18.3px;transform:scaleX(0.9617);">(+)</div>
<div class="t " style="left:123.50px;top:759.31px;font-size:18.3px;line-height:18.3px;transform:scaleX(1.0399);">Future</div>
<div class="t " style="left:183.50px;top:759.31px;font-size:18.3px;line-height:18.3px;transform:scaleX(1.0651);">Interest</div>
<div class="t " style="left:253.50px;top:759.31px;font-size:18.3px;line-height:18.3px;transform:scaleX(0.9948);">Payments:</div>
<div class="t " style="left:96.50px;top:785.31px;font-size:18.3px;line-height:18.3px;transform:scaleX(0.9617);">(+)</div>
<div class="t " style="left:123.50px;top:785.31px;font-size:18.3px;line-height:18.3px;transform:scaleX(1.0399);">Future</div>
<div class="t " style="left:183.50px;top:785.31px;font-size:18.3px;line-height:18.3px;transform:scaleX(1.0259);">Principal</div>
<div class="t " style="left:260.50px;top:785.31px;font-size:18.3px;line-height:18.3px;">Repayments:</div>
<div class="t " style="left:85.00px;top:811.39px;font-size:18.2px;line-height:18.2px;font-weight:bold;transform:scaleX(0.9891);">Total</div>
<div class="t " style="left:133.00px;top:811.39px;font-size:18.2px;line-height:18.2px;font-weight:bold;transform:scaleX(0.8988);">Cash</div>
<div class="t " style="left:178.00px;top:811.39px;font-size:18.2px;line-height:18.2px;font-weight:bold;transform:scaleX(0.9682);">Flow:</div>
<div class="t " style="left:433.50px;top:733.31px;font-size:18.3px;line-height:18.3px;transform:scaleX(0.9826);">$</div>
<div class="t " style="left:433.50px;top:811.39px;font-size:18.2px;line-height:18.2px;font-weight:bold;transform:scaleX(0.9879);">$</div>
<div class="t " style="left:477.00px;top:733.31px;font-size:18.3px;line-height:18.3px;transform:scaleX(0.9831);">(950.0)</div>
<div class="t " style="left:512.20px;top:760.31px;font-size:18.3px;line-height:18.3px;transform:scaleX(1.4500);">-</div>
<div class="t " style="left:512.20px;top:786.31px;font-size:18.3px;line-height:18.3px;transform:scaleX(1.4500);">-</div>
<div class="t " style="left:477.00px;top:811.39px;font-size:18.2px;line-height:18.2px;font-weight:bold;transform:scaleX(0.9885);">(950.0)</div>
<div class="t " style="left:547.50px;top:733.31px;font-size:18.3px;line-height:18.3px;transform:scaleX(0.9826);">$</div>
<div class="t " style="left:547.50px;top:811.39px;font-size:18.2px;line-height:18.2px;font-weight:bold;transform:scaleX(0.9879);">$</div>
<div class="t " style="left:626.20px;top:734.31px;font-size:18.3px;line-height:18.3px;transform:scaleX(1.4500);">-</div>
<div class="t " style="left:606.50px;top:759.31px;font-size:18.3px;line-height:18.3px;transform:scaleX(0.9827);">10.4</div>
<div class="t " style="left:626.20px;top:786.31px;font-size:18.3px;line-height:18.3px;transform:scaleX(1.4500);">-</div>
<div class="t " style="left:606.50px;top:811.39px;font-size:18.2px;line-height:18.2px;font-weight:bold;transform:scaleX(0.9881);">10.4</div>
<div class="t " style="left:661.50px;top:733.31px;font-size:18.3px;line-height:18.3px;transform:scaleX(0.9826);">$</div>
<div class="t " style="left:661.50px;top:811.39px;font-size:18.2px;line-height:18.2px;font-weight:bold;transform:scaleX(0.9879);">$</div>
<div class="t " style="left:740.20px;top:734.31px;font-size:18.3px;line-height:18.3px;transform:scaleX(1.4500);">-</div>
<div class="t " style="left:720.50px;top:759.31px;font-size:18.3px;line-height:18.3px;transform:scaleX(0.9827);">25.0</div>
<div class="t " style="left:740.20px;top:786.31px;font-size:18.3px;line-height:18.3px;transform:scaleX(1.4500);">-</div>
<div class="t " style="left:720.50px;top:811.39px;font-size:18.2px;line-height:18.2px;font-weight:bold;transform:scaleX(0.9881);">25.0</div>
<div class="t " style="left:775.50px;top:733.31px;font-size:18.3px;line-height:18.3px;transform:scaleX(0.9826);">$</div>
<div class="t " style="left:775.50px;top:811.39px;font-size:18.2px;line-height:18.2px;font-weight:bold;transform:scaleX(0.9879);">$</div>
<div class="t " style="left:854.20px;top:734.31px;font-size:18.3px;line-height:18.3px;transform:scaleX(1.4500);">-</div>
<div class="t " style="left:834.50px;top:759.31px;font-size:18.3px;line-height:18.3px;transform:scaleX(0.9827);">25.0</div>
<div class="t " style="left:854.20px;top:786.31px;font-size:18.3px;line-height:18.3px;transform:scaleX(1.4500);">-</div>
<div class="t " style="left:834.50px;top:811.39px;font-size:18.2px;line-height:18.2px;font-weight:bold;transform:scaleX(0.9881);">25.0</div>
<div class="t " style="left:889.50px;top:733.31px;font-size:18.3px;line-height:18.3px;transform:scaleX(0.9826);">$</div>
<div class="t " style="left:889.50px;top:811.39px;font-size:18.2px;line-height:18.2px;font-weight:bold;transform:scaleX(0.9879);">$</div>
<div class="t " style="left:968.20px;top:734.31px;font-size:18.3px;line-height:18.3px;transform:scaleX(1.4500);">-</div>
<div class="t " style="left:948.50px;top:759.31px;font-size:18.3px;line-height:18.3px;transform:scaleX(0.9827);">25.0</div>
<div class="t " style="left:968.20px;top:786.31px;font-size:18.3px;line-height:18.3px;transform:scaleX(1.4500);">-</div>
<div class="t " style="left:948.50px;top:811.39px;font-size:18.2px;line-height:18.2px;font-weight:bold;transform:scaleX(0.9881);">25.0</div>
<div class="t " style="left:1003.50px;top:733.31px;font-size:18.3px;line-height:18.3px;transform:scaleX(0.9826);">$</div>
<div class="t " style="left:1003.50px;top:811.39px;font-size:18.2px;line-height:18.2px;font-weight:bold;transform:scaleX(0.9879);">$</div>
<div class="t " style="left:1082.20px;top:734.31px;font-size:18.3px;line-height:18.3px;transform:scaleX(1.4500);">-</div>
<div class="t " style="left:1062.50px;top:759.31px;font-size:18.3px;line-height:18.3px;transform:scaleX(0.9827);">25.0</div>
<div class="t " style="left:1082.20px;top:786.31px;font-size:18.3px;line-height:18.3px;transform:scaleX(1.4500);">-</div>
<div class="t " style="left:1062.50px;top:811.39px;font-size:18.2px;line-height:18.2px;font-weight:bold;transform:scaleX(0.9881);">25.0</div>
<div class="t " style="left:1117.50px;top:733.31px;font-size:18.3px;line-height:18.3px;transform:scaleX(0.9826);">$</div>
<div class="t " style="left:1117.50px;top:811.39px;font-size:18.2px;line-height:18.2px;font-weight:bold;transform:scaleX(0.9879);">$</div>
<div class="t " style="left:1196.20px;top:734.31px;font-size:18.3px;line-height:18.3px;transform:scaleX(1.4500);">-</div>
<div class="t " style="left:1176.50px;top:759.31px;font-size:18.3px;line-height:18.3px;transform:scaleX(0.9827);">25.0</div>
<div class="t " style="left:1196.20px;top:786.31px;font-size:18.3px;line-height:18.3px;transform:scaleX(1.4500);">-</div>
<div class="t " style="left:1176.50px;top:811.39px;font-size:18.2px;line-height:18.2px;font-weight:bold;transform:scaleX(0.9881);">25.0</div>
<div class="t " style="left:1231.50px;top:733.31px;font-size:18.3px;line-height:18.3px;transform:scaleX(0.9826);">$</div>
<div class="t " style="left:1231.50px;top:811.39px;font-size:18.2px;line-height:18.2px;font-weight:bold;transform:scaleX(0.9879);">$</div>
<div class="t " style="left:1310.20px;top:734.31px;font-size:18.3px;line-height:18.3px;transform:scaleX(1.4500);">-</div>
<div class="t " style="left:1290.50px;top:759.31px;font-size:18.3px;line-height:18.3px;transform:scaleX(0.9827);">25.0</div>
<div class="t " style="left:1310.20px;top:786.31px;font-size:18.3px;line-height:18.3px;transform:scaleX(1.4500);">-</div>
<div class="t " style="left:1290.50px;top:811.39px;font-size:18.2px;line-height:18.2px;font-weight:bold;transform:scaleX(0.9881);">25.0</div>
<div class="b" style="left:538px;top:182px;width:113px;height:25px;border:1px solid rgba(255,255,255,0.55);box-sizing:border-box;"></div>
<div class="b" style="left:536px;top:180px;width:117px;height:29px;border:2px solid #3a6ab3;box-sizing:border-box;"></div>
<div class="b" style="left:538px;top:208px;width:113px;height:25px;border:1px solid rgba(255,255,255,0.55);box-sizing:border-box;"></div>
<div class="b" style="left:536px;top:206px;width:117px;height:29px;border:2px solid #7e55a6;box-sizing:border-box;"></div>
<div class="b" style="left:538px;top:260px;width:113px;height:25px;border:1px solid rgba(255,255,255,0.55);box-sizing:border-box;"></div>
<div class="b" style="left:536px;top:258px;width:117px;height:29px;border:2px solid #26708e;box-sizing:border-box;"></div>
<div class="b" style="left:538px;top:364px;width:113px;height:25px;border:1px solid rgba(255,255,255,0.55);box-sizing:border-box;"></div>
<div class="b" style="left:536px;top:362px;width:117px;height:29px;border:2px solid #a23d7e;box-sizing:border-box;"></div>
<div class="b" style="left:538px;top:416px;width:113px;height:25px;border:1px solid rgba(255,255,255,0.55);box-sizing:border-box;"></div>
<div class="b" style="left:536px;top:414px;width:117px;height:29px;border:2px solid #217a35;box-sizing:border-box;"></div>
<div class="b" style="left:766px;top:572px;width:113px;height:24px;border:1px solid rgba(255,255,255,0.55);box-sizing:border-box;"></div>
<div class="b" style="left:764px;top:570px;width:117px;height:28px;border:2px solid #c25e17;box-sizing:border-box;"></div>
<div class="b" style="left:762px;top:568px;width:7px;height:7px;background:#fff;"></div>
<div class="b" style="left:763px;top:569px;width:5px;height:5px;background:#bb5a14;"></div>
<div class="b" style="left:762px;top:594px;width:7px;height:7px;background:#fff;"></div>
<div class="b" style="left:763px;top:595px;width:5px;height:5px;background:#bb5a14;"></div>
<div class="b" style="left:876px;top:568px;width:7px;height:7px;background:#fff;"></div>
<div class="b" style="left:877px;top:569px;width:5px;height:5px;background:#bb5a14;"></div>
<div class="b" style="left:876px;top:594px;width:7px;height:7px;background:#fff;"></div>
<div class="b" style="left:877px;top:595px;width:5px;height:5px;background:#bb5a14;"></div>
<div class="b" style="left:766px;top:676px;width:113px;height:25px;border:1px solid rgba(255,255,255,0.55);box-sizing:border-box;"></div>
<div class="b" style="left:764px;top:674px;width:117px;height:29px;border:2px solid #c42f3f;box-sizing:border-box;"></div>
<div class="b" style="left:762px;top:672px;width:7px;height:7px;background:#fff;"></div>
<div class="b" style="left:763px;top:673px;width:5px;height:5px;background:#c42f3f;"></div>
<div class="b" style="left:762px;top:698px;width:7px;height:7px;background:#fff;"></div>
<div class="b" style="left:763px;top:699px;width:5px;height:5px;background:#c42f3f;"></div>
<div class="b" style="left:876px;top:672px;width:7px;height:7px;background:#fff;"></div>
<div class="b" style="left:877px;top:673px;width:5px;height:5px;background:#c42f3f;"></div>
<div class="b" style="left:876px;top:698px;width:7px;height:7px;background:#fff;"></div>
<div class="b" style="left:877px;top:699px;width:5px;height:5px;background:#c42f3f;"></div>
<div class="b" style="left:769px;top:596px;width:107px;height:2px;background:#1e6e42;"></div>
<div class="b" style="left:764px;top:623px;width:112px;height:2px;background:#1e6e42;"></div>
<div class="b" style="left:876px;top:622px;width:7px;height:5px;background:#fff;"></div>
<div class="b" style="left:877px;top:623px;width:5px;height:3px;background:#1e6e42;"></div>
<div class="b" style="left:70px;top:593px;width:1274px;height:37px;border:3px solid #e23b40;box-sizing:border-box;"></div>
<div class="b" style="left:1233px;top:601px;width:1px;height:21px;background:#000;"></div>
</body></html>
